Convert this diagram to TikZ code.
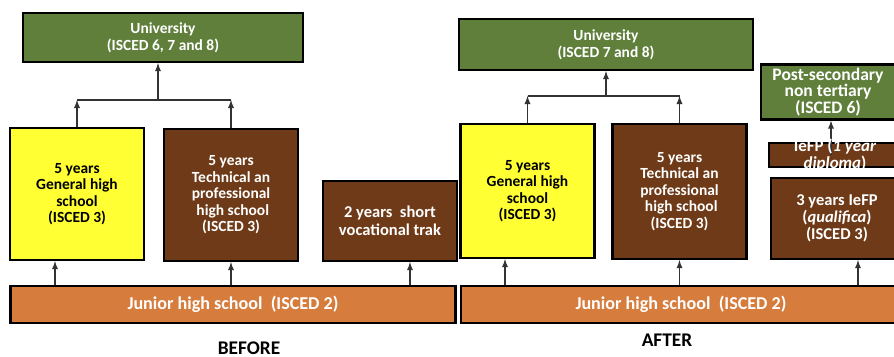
\documentclass[tikz,border=0pt]{standalone}
\usepackage{fontspec}
\setmainfont{Carlito}
\usetikzlibrary{arrows, positioning, calc}
\definecolor{unigreen}{HTML}{5F7F3B}
\definecolor{genyellow}{HTML}{FFFF33}
\definecolor{techbrown}{HTML}{6E3A17}
\definecolor{juniororange}{HTML}{D67C3C}
\begin{document}
\begin{tikzpicture}[x=0.02cm, y=-0.02cm]
        \tikzstyle{box} = [rectangle, draw=black, line width=1.3pt, text centered, align=center, inner sep=2pt, font=\bfseries\fontsize{8.8}{9.4}\selectfont]
        \tikzstyle{uni} = [box, fill=unigreen, text=white]
        \tikzstyle{general} = [box, fill=genyellow, text=black, minimum width=2.68cm]
        \tikzstyle{technical} = [box, fill=techbrown, text=white, minimum width=2.68cm]
        \tikzstyle{junior} = [box, fill=juniororange, text=white, minimum width=8.9cm, minimum height=0.74cm, font=\bfseries\fontsize{10.3}{12}\selectfont]
        \tikzstyle{caption} = [font=\bfseries\fontsize{11}{13}\selectfont]
        \tikzstyle{arrow} = [->, >=latex, line width=0.6pt, draw=black!80]
        \useasboundingbox (0,0) rectangle (894,357);

        %before
        \node[uni, minimum width=5.6cm, minimum height=0.98cm] (uniL) at (163,37.5) {University\\(ISCED 6, 7 and 8)};
        \node[general, minimum height=2.64cm] (genL) at (77,194) {5 years\\General high\\school\\(ISCED 3)};
        \node[technical, minimum height=2.64cm] (techL) at (231,195) {5 years\\Technical an\\professional\\\ high school\\(ISCED 3)};
        \node[technical, minimum height=1.6cm, font=\bfseries\fontsize{9.4}{10}\selectfont] (shortL) at (390,221) {2 years~ short\\vocational trak};
        \node[junior] (juniorL) at (233,304.5) {Junior high school~ (ISCED 2)};
        \node[caption] (before) at (249,348) {BEFORE};

        %after
        \node[uni, minimum width=5.88cm, minimum height=1.02cm] (uniR) at (606,44.5) {University\\(ISCED 7 and 8)};
        \node[general, minimum height=2.68cm] (genR) at (527.5,191) {5 years\\General high\\school\\(ISCED 3)};
        \node[technical, minimum height=2.7cm] (techR) at (679.5,191.5) {5 years\\Technical an\\professional\\\ high school\\(ISCED 3)};
        \node[uni, minimum width=2.68cm, minimum height=1.04cm, font=\bfseries\fontsize{10}{9.4}\selectfont] (postR) at (828,92) {Post-secondary\\non tertiary\\(ISCED 6)};
        \node[technical, minimum width=2.64cm, minimum height=0.48cm] (iefpR) at (835,155) {};
        \node[technical, minimum width=2.64cm, minimum height=1.62cm, font=\bfseries\fontsize{9.4}{9.8}\selectfont] (iefp3R) at (837,218.5) {3 years IeFP\\(\textit{qualifica})\\(ISCED 3)};
        \node[junior, minimum width=8.8cm] (juniorR) at (681,304.5) {Junior high school~ (ISCED 2)};
        \node[caption] (after) at (667,340) {AFTER};

        %junction points
        \coordinate (joinL) at (158,100);
        \coordinate (joinR) at (606,96);
        \coordinate (genLin) at ([xshift=-0.44cm]genL.south);
        \coordinate (shortLin) at ([xshift=0.4cm]shortL.south);
        \coordinate (genRin) at ([xshift=-0.45cm]genR.south);
        \coordinate (iefp3Rin) at ([xshift=0.42cm]iefp3R.south);

        %high school to university, before
        \draw[arrow] (genL.north) -- (genL.north |- joinL);
        \draw[arrow] (techL.north) -- (techL.north |- joinL);
        \draw[line width=0.6pt, draw=black!80] (genL.north |- joinL) -- (techL.north |- joinL);
        \draw[arrow] (joinL) -- (joinL |- uniL.south);

        %junior to high school, before
        \draw[arrow] (genLin |- juniorL.north) -- (genLin);
        \draw[arrow] (techL.south |- juniorL.north) -- (techL.south);
        \draw[arrow] (shortLin |- juniorL.north) -- (shortLin);

        %high school to university, after
        \draw[arrow] (genR.north) -- (genR.north |- joinR);
        \draw[arrow] (techR.north) -- (techR.north |- joinR);
        \draw[line width=0.6pt, draw=black!80] (genR.north |- joinR) -- (techR.north |- joinR);
        \draw[arrow] (joinR) -- (uniR.south);

        %junior to high school, after
        \draw[arrow] (genRin |- juniorR.north) -- (genRin);
        \draw[arrow] (techR.south |- juniorR.north) -- (techR.south);
        \draw[arrow] (iefp3Rin |- juniorR.north) -- (iefp3Rin);

        %iefp to post-secondary
        \draw[arrow] ([xshift=-0.08cm]iefpR.center) -- ([xshift=-0.08cm]iefpR.center |- postR.south);
        \node[font=\bfseries\fontsize{9.6}{10}\selectfont, text=white, align=center] (iefpRtxt) at (iefpR) {IeFP (\textit{1 year}\\\textit{diploma})};
\end{tikzpicture}
\end{document}
